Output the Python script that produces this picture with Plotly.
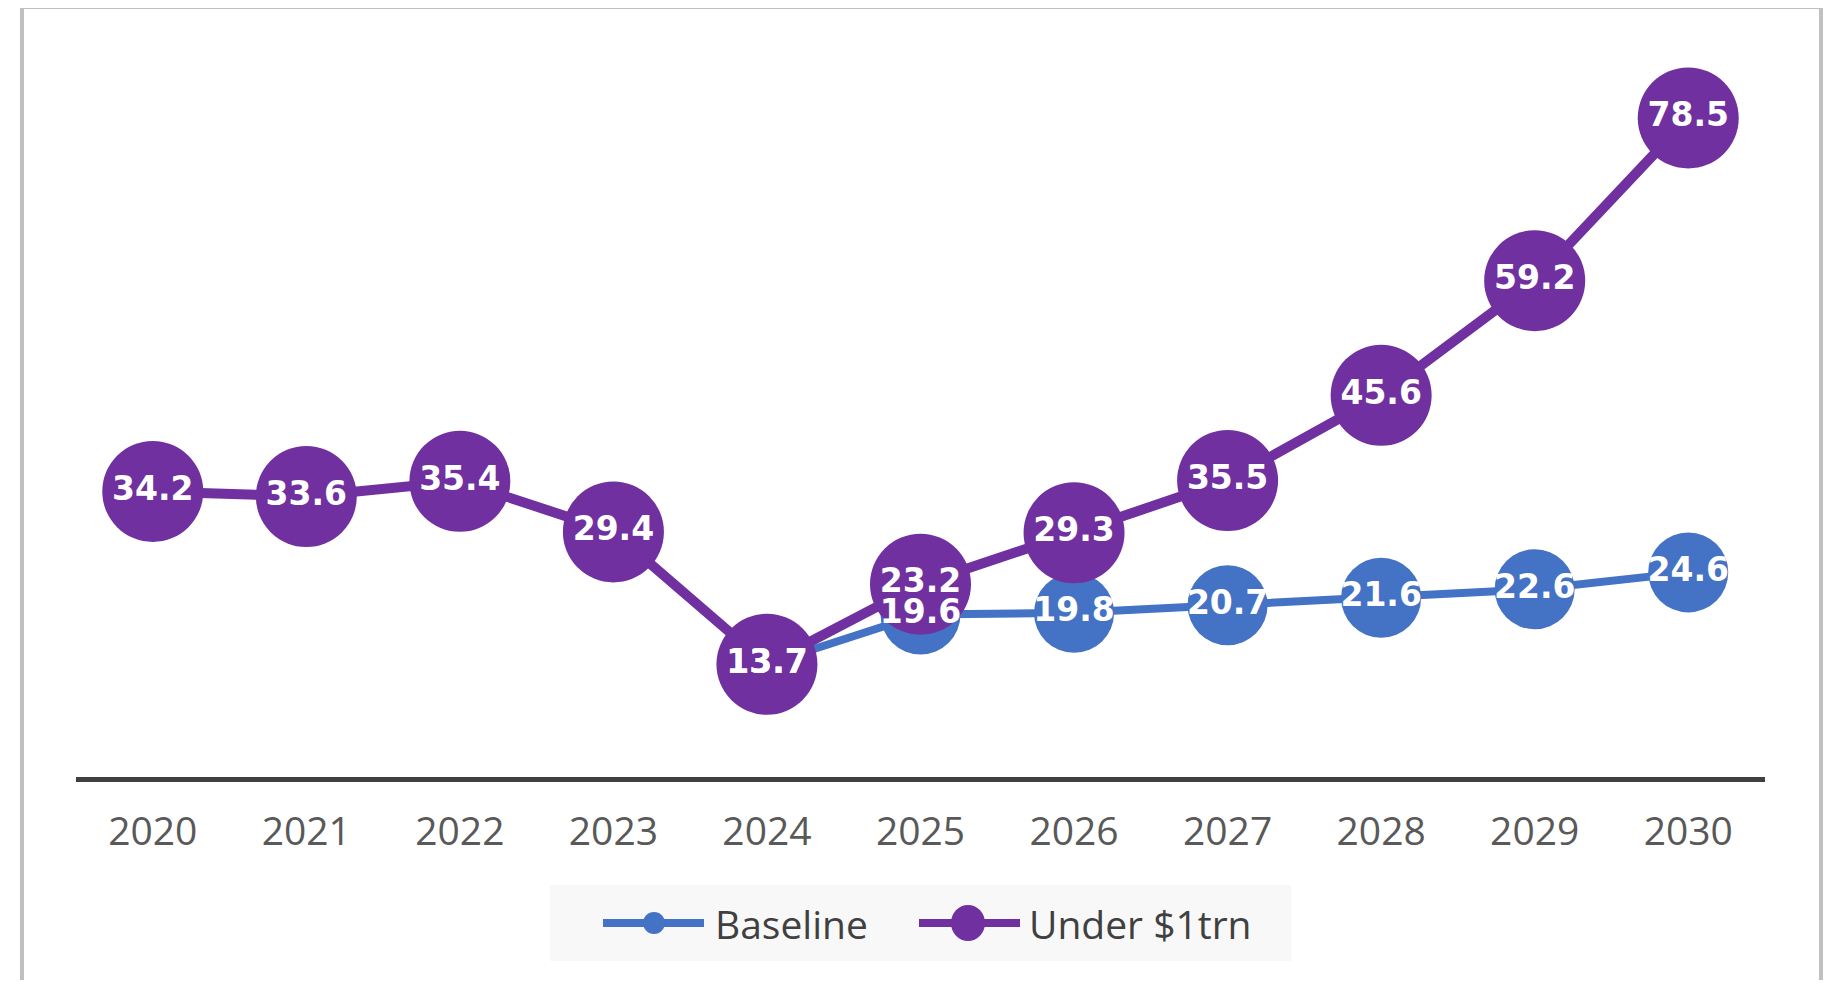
import plotly.graph_objects as go

years = ["2020", "2021", "2022", "2023", "2024", "2025", "2026", "2027", "2028", "2029", "2030"]
baseline = [None, None, None, None, 13.7, 19.6, 19.8, 20.7, 21.6, 22.6, 24.6]
under_1trn = [34.2, 33.6, 35.4, 29.4, 13.7, 23.2, 29.3, 35.5, 45.6, 59.2, 78.5]
series_names = ["Baseline", "Under $1trn"]

BLUE = "#4472c4"
PURPLE = "#7030a0"

# figure geometry (page body has an 8px margin)
W, H = 1816, 972
L, R, T, B = 68, 59, 13, 196
PW = W - L - R
PH = H - T - B


def px(fx):
    return (fx - L) / PW


def py(fy):
    return (H - B - fy) / PH


fig = go.Figure()
fig.add_trace(go.Scatter(
    x=years, y=baseline, name=series_names[0], mode="lines+markers",
    line=dict(color=BLUE, width=8),
    marker=dict(color=BLUE, size=80, line=dict(width=0)),
))
fig.add_trace(go.Scatter(
    x=years, y=under_1trn, name=series_names[1], mode="lines+markers",
    line=dict(color=PURPLE, width=10),
    marker=dict(color=PURPLE, size=101, line=dict(width=0)),
))
label_font = dict(family="DejaVu Sans", size=33, color="white", weight="bold")
fig.add_trace(go.Scatter(
    x=years, y=baseline, mode="text", texttemplate="%{y:.1f}",
    textposition="middle center", textfont=label_font, showlegend=False,
    hoverinfo="skip",
))
fig.add_trace(go.Scatter(
    x=years, y=under_1trn, mode="text", texttemplate="%{y:.1f}",
    textposition="middle center", textfont=label_font, showlegend=False,
    hoverinfo="skip",
))

# legend drawn as decoration (window coords -> figure coords: minus 8)
LEG_Y = 915
legend_shapes = [
    dict(type="rect", xref="paper", yref="paper",
         x0=px(542), x1=px(1283), y0=py(953), y1=py(877),
         line=dict(width=0), fillcolor="#f8f8f8", layer="below"),
    # Baseline glyph
    dict(type="line", xref="paper", yref="paper",
         x0=px(595), x1=px(696), y0=py(LEG_Y), y1=py(LEG_Y),
         line=dict(color=BLUE, width=8), layer="above"),
    dict(type="circle", xref="paper", yref="paper",
         x0=px(635), x1=px(657), y0=py(LEG_Y + 11), y1=py(LEG_Y - 11),
         line=dict(width=0), fillcolor=BLUE, layer="above"),
    # Under $1trn glyph
    dict(type="line", xref="paper", yref="paper",
         x0=px(911), x1=px(1012), y0=py(LEG_Y), y1=py(LEG_Y),
         line=dict(color=PURPLE, width=8), layer="above"),
    dict(type="circle", xref="paper", yref="paper",
         x0=px(943), x1=px(977), y0=py(LEG_Y + 18), y1=py(LEG_Y - 18),
         line=dict(width=0), fillcolor=PURPLE, layer="above"),
]
legend_font = dict(family="Open Sans", size=39, color="#404040")
legend_annotations = [
    dict(text=series_names[0], xref="paper", yref="paper", x=px(705), y=py(LEG_Y),
         xanchor="left", yanchor="middle", showarrow=False, font=legend_font),
    dict(text=series_names[1], xref="paper", yref="paper", x=px(1019), y=py(LEG_Y),
         xanchor="left", yanchor="middle", showarrow=False, font=legend_font),
]

fig.update_layout(
    width=W, height=H,
    margin=dict(l=L, r=R, t=T, b=B, pad=0),
    paper_bgcolor="white", plot_bgcolor="white",
    showlegend=False,
    xaxis=dict(
        type="category", range=[-0.5, 10.5], showgrid=False, zeroline=False,
        showline=False, ticks="",
        tickfont=dict(family="Open Sans", size=39, color="#595959"),
        ticklabelstandoff=21, fixedrange=True,
    ),
    yaxis=dict(
        range=[-0.5, 90], showgrid=False, showticklabels=False, ticks="",
        showline=False, zeroline=True, zerolinecolor="#404040", zerolinewidth=5,
        fixedrange=True,
    ),
    shapes=[
        dict(
            type="rect", xref="paper", yref="paper",
            x0=px(14), x1=px(1813), y0=py(980), y1=py(-1),
            line=dict(color="#c0c0c0", width=4), fillcolor="rgba(0,0,0,0)", layer="below",
        ),
    ] + legend_shapes,
    annotations=legend_annotations,
)

fig.write_html("out.html")
